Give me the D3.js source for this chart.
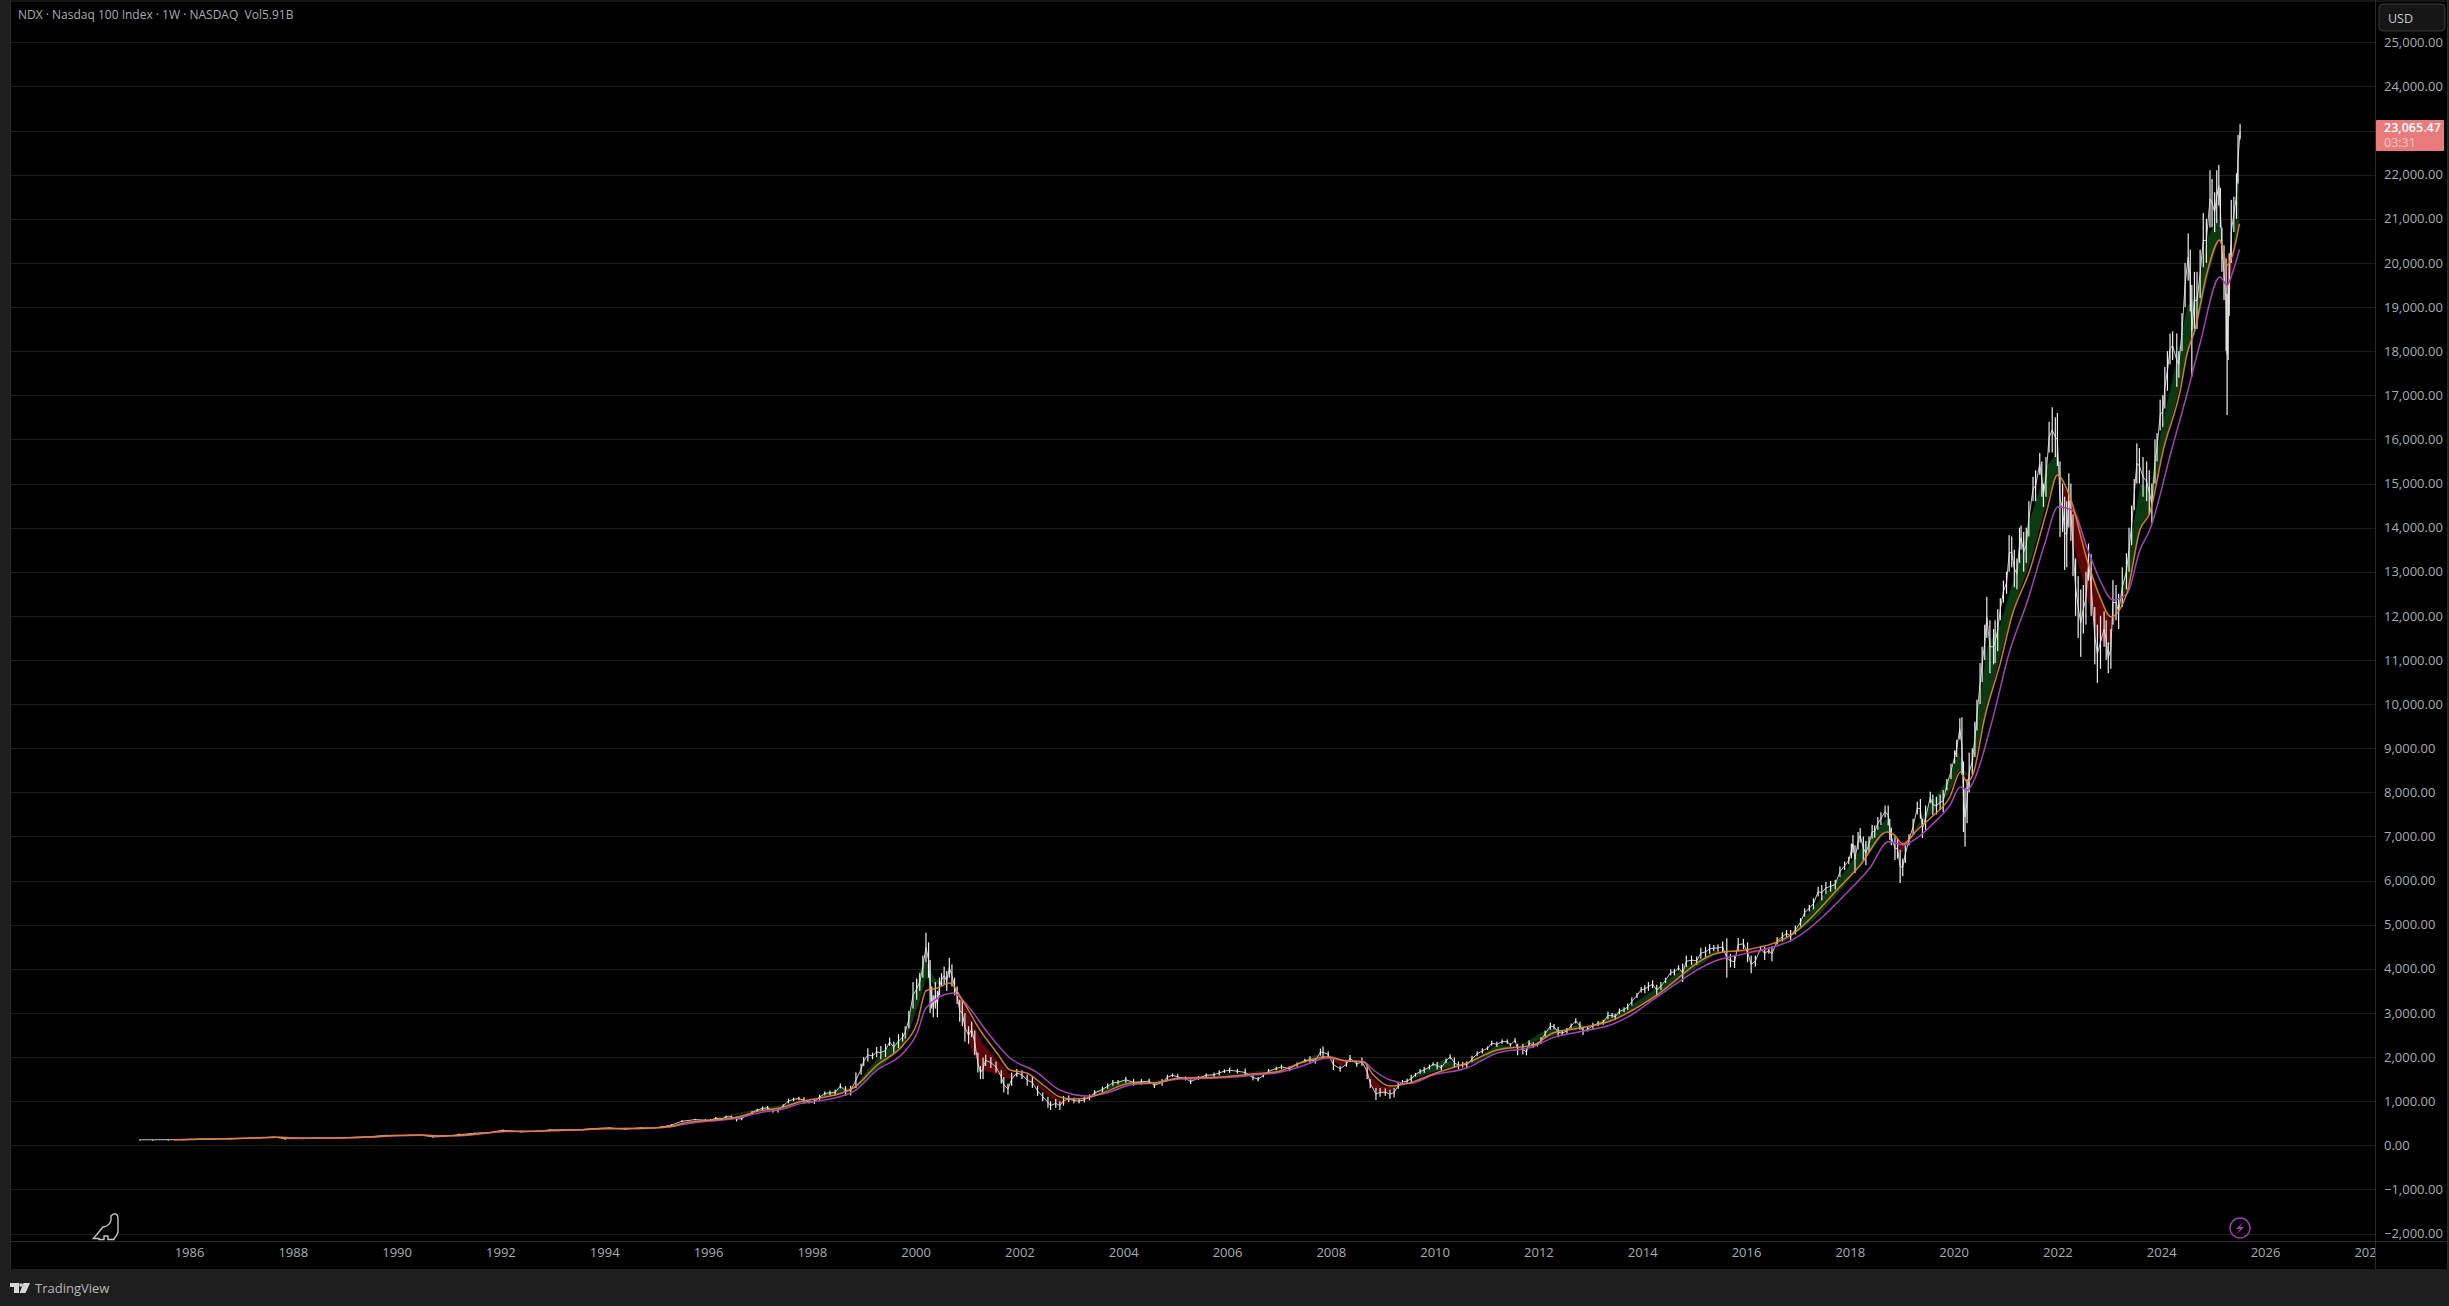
<!DOCTYPE html>
<html>
<head>
<meta charset="utf-8">
<title>NDX</title>
<script src="https://cdn.jsdelivr.net/npm/d3@7"></script>
<style>
    html, body { margin: 0; padding: 0; background: #1e1e1e; overflow: hidden; }
    svg { display: block; }
    text { font-family: "Open Sans", "Noto Sans", sans-serif; }
</style>
</head>
<body>
<script>
// weekly price range (year as decimal)
const barDates = [
    1985.05,1985.3,1985.6,1985.9,1986.2,1986.5,1986.8,1987.2,1987.5,1987.63,1987.85,1988.2,1988.5,1988.9,1989.2,1989.5,1989.8,
    1990.2,1990.45,1990.7,1990.9,1991.2,1991.5,1991.8,1992.05,1992.4,1992.7,1992.95,1993.2,1993.5,1993.8,1994.1,1994.4,1994.7,1994.95,1995.1,1995.3,1995.5,1995.75,1995.95,
    1996.05,1996.15,1996.25,1996.35,1996.45,1996.55,1996.65,1996.75,1996.85,1996.95,
    1997.05,1997.15,1997.25,1997.35,1997.45,1997.55,1997.65,1997.75,1997.85,1997.95,
    1998.05,1998.15,1998.25,1998.35,1998.45,1998.55,1998.65,1998.75,1998.85,1998.95,
    1999,1999.08,1999.17,1999.25,1999.33,1999.42,1999.5,1999.58,1999.67,1999.75,1999.8,1999.87,1999.95,
    2000.02,2000.08,2000.14,2000.2,2000.25,2000.28,2000.31,2000.34,2000.38,2000.42,2000.46,2000.5,2000.55,2000.6,2000.65,2000.7,2000.75,2000.8,2000.85,2000.9,2000.95,
    2001.02,2001.08,2001.14,2001.2,2001.25,2001.3,2001.35,2001.45,2001.55,2001.65,2001.7,2001.78,2001.85,2001.95,
    2002.05,2002.15,2002.25,2002.35,2002.45,2002.55,2002.6,2002.7,2002.78,2002.85,2002.95,
    2003.05,2003.15,2003.25,2003.35,2003.45,2003.6,2003.7,2003.8,2003.9,
    2004.05,2004.2,2004.35,2004.5,2004.6,2004.75,2004.85,2004.95,
    2005.05,2005.2,2005.3,2005.45,2005.6,2005.75,2005.85,2005.95,
    2006.05,2006.2,2006.35,2006.5,2006.6,2006.7,2006.8,2006.95,
    2007.05,2007.2,2007.35,2007.5,2007.6,2007.7,2007.8,2007.85,2007.95,
    2008.05,2008.18,2008.3,2008.37,2008.5,2008.6,2008.7,2008.76,2008.87,2008.95,
    2009.05,2009.14,2009.22,2009.3,2009.38,2009.47,2009.55,2009.63,2009.72,2009.8,2009.9,2009.97,
    2010.05,2010.13,2010.22,2010.3,2010.38,2010.46,2010.54,2010.62,2010.72,2010.82,2010.92,
    2011.02,2011.1,2011.2,2011.3,2011.4,2011.46,2011.55,2011.6,2011.7,2011.77,2011.82,2011.9,2011.98,
    2012.05,2012.13,2012.23,2012.3,2012.38,2012.46,2012.55,2012.63,2012.72,2012.8,2012.86,2012.95,
    2013.05,2013.15,2013.25,2013.34,2013.42,2013.48,2013.56,2013.65,2013.72,2013.8,2013.9,2013.98,
    2014.05,2014.12,2014.2,2014.28,2014.36,2014.45,2014.55,2014.62,2014.7,2014.78,2014.85,2014.95,
    2015.05,2015.13,2015.22,2015.3,2015.38,2015.46,2015.55,2015.63,2015.7,2015.78,2015.85,2015.95,
    2016.03,2016.1,2016.18,2016.28,2016.36,2016.44,2016.5,2016.6,2016.7,2016.78,2016.86,2016.95,
    2017.05,2017.13,2017.22,2017.3,2017.39,2017.46,2017.54,2017.63,2017.72,2017.81,2017.9,2017.98,
    2018.03,2018.06,2018.1,2018.16,2018.2,2018.26,2018.31,2018.37,2018.43,2018.48,2018.54,2018.6,2018.68,2018.74,2018.77,2018.8,2018.87,2018.92,2018.97,
    2019.02,2019.07,2019.14,2019.22,2019.3,2019.36,2019.4,2019.46,2019.55,2019.6,2019.67,2019.74,2019.8,2019.87,2019.95,
    2020.02,2020.06,2020.12,2020.16,2020.19,2020.22,2020.26,2020.3,2020.36,2020.41,2020.45,2020.51,2020.55,2020.6,2020.64,2020.7,2020.77,2020.8,2020.85,2020.9,2020.96,
    2021.02,2021.07,2021.12,2021.17,2021.22,2021.27,2021.3,2021.35,2021.4,2021.45,2021.53,2021.58,2021.66,2021.7,2021.73,2021.78,2021.84,2021.9,2021.96,
    2022,2022.05,2022.1,2022.14,2022.18,2022.22,2022.26,2022.3,2022.35,2022.4,2022.45,2022.5,2022.55,2022.6,2022.65,2022.72,2022.77,2022.83,2022.9,2022.94,2022.98,
    2023.03,2023.07,2023.13,2023.18,2023.25,2023.33,2023.38,2023.43,2023.48,2023.53,2023.58,2023.65,2023.72,2023.77,2023.82,2023.88,2023.92,2023.98,
    2024.03,2024.07,2024.12,2024.17,2024.22,2024.3,2024.34,2024.4,2024.46,2024.52,2024.56,2024.59,2024.64,2024.69,2024.75,2024.81,2024.87,2024.94,2024.98,
    2025.03,2025.07,2025.11,2025.14,2025.17,2025.21,2025.25,2025.27,2025.29,2025.31,2025.35,2025.4,2025.45,2025.48,2025.52
];
const barHigh = [
    126,128,130,135,150,155,150,175,185,195,175,160,175,172,190,205,235,
    235,245,205,210,265,285,300,355,320,330,360,365,360,395,405,375,410,400,430,480,570,600,590,
    590,640,620,670,670,650,640,710,780,830,
    880,890,820,850,930,1060,1080,1100,1090,1010,
    1040,1150,1220,1240,1260,1400,1340,1350,1650,1850,
    2000,2200,2100,2230,2250,2300,2440,2350,2520,2550,2700,3050,3700,
    3780,3900,4300,4816,4600,4200,3600,3400,3700,3500,3800,3900,4050,3950,4250,4100,3800,3600,3300,3300,3000,
    2700,2800,2600,2100,1800,1990,2050,2000,1900,1700,1550,1400,1650,1730,
    1700,1600,1550,1350,1200,1100,1000,1050,1000,1120,1130,
    1080,1050,1100,1150,1250,1330,1400,1480,1480,
    1550,1500,1500,1510,1420,1500,1600,1630,
    1620,1560,1500,1570,1630,1650,1700,1720,
    1760,1730,1740,1600,1550,1620,1730,1780,
    1830,1790,1880,1960,2020,1980,2190,2240,2130,
    1950,1800,1900,2047,1900,1990,1850,1500,1300,1300,
    1290,1260,1300,1430,1480,1510,1600,1640,1730,1780,1830,1880,
    1890,1820,1970,2060,1990,1900,1890,1900,2030,2130,2200,
    2240,2370,2350,2400,2400,2310,2430,2300,2300,2180,2380,2340,2320,
    2450,2600,2780,2750,2680,2600,2660,2760,2880,2800,2680,2680,
    2780,2820,2840,3030,3000,2980,3100,3130,3210,3350,3450,3590,
    3630,3700,3740,3640,3700,3800,3990,4000,4080,4120,4300,4300,
    4280,4480,4500,4560,4540,4550,4620,4690,4340,4300,4700,4680,
    4600,4300,4300,4520,4500,4480,4510,4720,4830,4880,4880,4980,
    5150,5370,5450,5600,5860,5900,5970,5990,6020,6320,6430,6540,
    6840,7030,6800,7100,7190,7000,6900,7000,7260,7250,7440,7550,7700,7700,7400,7200,7000,6950,6700,
    6500,6800,7050,7400,7790,7850,7400,7700,8015,7950,7900,7950,8050,8300,8650,
    8950,9190,9680,9700,8700,8100,8300,8900,9000,9600,10100,10930,11300,11800,12430,11900,11700,11900,12150,12400,12800,
    13000,13830,13800,13500,13300,14000,14050,13900,14000,14600,15150,15300,15690,15500,15000,15600,16400,16730,16500,
    16600,15500,15000,14700,14600,15230,15000,14300,13300,12900,12600,12700,13000,13640,13400,12200,11800,12000,12100,11900,11400,
    11700,12810,12700,12500,13100,13420,14000,14500,15100,15910,15800,15600,15500,15300,15000,16000,16140,16900,
    17000,17640,18000,18400,18450,18400,18000,18860,20000,20670,20300,19500,19800,19800,20300,21130,21000,22100,21900,
    21600,22100,22220,21700,20800,20400,20100,19300,19500,20220,21430,21500,22030,22900,23150
];
const barLow = [
    124,122,125,125,132,143,140,150,170,180,125,145,160,160,175,190,215,
    215,225,175,190,215,260,280,325,290,300,340,335,340,365,385,355,385,380,400,440,520,565,550,
    545,590,570,620,625,540,570,650,710,760,
    800,810,740,740,860,950,1000,1020,950,950,
    940,1030,1130,1140,1130,1290,1120,1130,1300,1600,
    1800,1900,1950,2000,1950,2000,2250,2100,2200,2350,2420,2650,3100,
    3300,3500,3800,4150,3800,3000,3100,2900,3100,2900,3400,3600,3650,3500,3800,3600,3400,3200,2800,2700,2350,
    2300,2450,2050,1650,1500,1500,1800,1750,1650,1400,1200,1150,1350,1550,
    1500,1350,1300,1120,1000,850,800,850,800,900,980,
    950,950,970,1020,1120,1200,1280,1350,1380,
    1420,1350,1380,1400,1300,1350,1480,1550,
    1480,1470,1390,1480,1540,1550,1580,1640,
    1640,1630,1560,1470,1450,1540,1620,1700,
    1730,1680,1780,1880,1850,1850,2030,1980,1990,
    1707,1668,1780,1900,1782,1800,1500,1299,1027,1100,
    1120,1050,1090,1280,1380,1400,1420,1560,1620,1640,1720,1800,
    1720,1700,1860,1950,1760,1720,1760,1752,1880,2020,2080,
    2160,2260,2230,2300,2300,2240,2330,2040,2060,2040,2250,2210,2240,
    2300,2460,2620,2630,2450,2480,2530,2650,2760,2620,2500,2580,
    2640,2700,2730,2860,2890,2840,2970,3020,3070,3170,3340,3460,
    3450,3500,3560,3400,3520,3680,3850,3850,3960,3700,4040,4090,
    4090,4230,4270,4340,4400,4390,4380,3800,4030,4020,4400,4450,
    4150,3900,4050,4400,4200,4340,4170,4550,4620,4720,4620,4780,
    4960,5180,5300,5350,5640,5550,5700,5750,5800,6080,6240,6370,
    6500,6630,6170,6700,6860,6470,6350,6650,6950,6970,7150,7260,7430,7250,6920,6800,6466,6500,5945,
    6100,6400,6800,7050,7500,7400,6965,7150,7750,7486,7500,7600,7550,8050,8300,
    8650,8800,9200,8400,7100,6770,7300,8000,8400,8800,9400,10000,10500,11000,11500,10700,10900,10930,11200,11900,12300,
    12500,13000,13100,12650,12600,13200,13500,13000,13200,13800,14600,14600,15200,14700,14470,14700,15700,15700,15600,
    15400,13790,13900,13040,13100,14000,13700,12900,12000,11500,11070,11600,11800,12800,12000,10900,10480,10800,11300,11000,10700,
    10800,11800,11900,11700,12200,12600,13000,13600,14400,15000,15000,14700,14600,14300,14100,15000,15500,16200,
    16280,16700,17100,17700,17800,17190,17400,18000,19000,19600,18900,17420,18500,18500,19200,19900,20000,20800,20810,
    20700,20900,21300,20800,19800,19160,18000,16550,17800,18800,20000,20700,21000,21800,22800
];

// orange moving average
const orangeDates = [1985.7,1986.5,1987.3,1987.7,1988,1988.5,1989,1989.5,1990,1990.5,1990.8,1991.2,1991.6,1992.1,1992.6,1993,1993.5,1994,1994.5,1995,1995.3,1995.6,1996,1996.5,1997,1997.4,1997.8,1998.16,1998.8,1999.26,1999.76,2000.03,2000.2,2000.4,2000.66,2000.9,2001.24,2001.57,2001.82,2002.14,2002.46,2002.78,2003.03,2003.3,2003.6,2004.19,2004.57,2005.09,2005.87,2006.5,2007,2007.41,2007.95,2008.31,2008.62,2008.82,2009.14,2009.52,2009.97,2010.62,2011.2,2011.9,2012.28,2012.8,2013.44,2013.82,2014.2,2015.46,2016,2016.9,2017.81,2018.2,2018.72,2018.85,2019.03,2019.3,2019.6,2019.93,2020.13,2020.26,2020.38,2020.6,2020.9,2021.12,2021.47,2021.8,2022,2022.24,2022.57,2022.82,2023.03,2023.34,2023.59,2023.78,2024.04,2024.37,2024.5,2024.65,2024.88,2025.13,2025.27,2025.36,2025.51];
const orangeValues = [127,142,168,185,165,163,170,190,222,232,210,220,265,320,320,335,350,380,380,400,430,520,565,625,780,850,1000,1072,1299,1820,2273,2772,3504,3560,3680,3293,2613,2092,1707,1638,1367,1095,1049,1072,1185,1412,1412,1525,1548,1620,1680,1865,2009,1910,1895,1593,1344,1412,1616,1865,2160,2273,2545,2660,2840,3066,3340,4360,4430,4790,5860,6350,7100,7040,6830,7150,7465,7900,8460,8240,8430,9700,10930,11980,13040,14400,15190,14700,13270,12430,11980,12520,13950,14330,15760,17120,17950,18480,19760,20520,19950,20130,20890];

// purple moving average
const purpleDates = [1985.7,1986.5,1987.3,1987.7,1988,1988.5,1989,1989.5,1990,1990.5,1990.8,1991.2,1991.6,1992.1,1992.6,1993,1993.5,1994,1994.5,1995,1995.3,1995.6,1996,1996.5,1997,1997.4,1997.8,1998.16,1998.8,1999.26,1999.76,2000.03,2000.2,2000.72,2000.99,2001.38,2001.82,2002.33,2002.78,2003.3,2003.6,2004.19,2004.57,2005.09,2005.87,2006.5,2007,2007.41,2007.95,2008.31,2008.62,2008.82,2009.14,2009.52,2009.97,2010.62,2011.2,2011.9,2012.28,2012.8,2013.44,2013.82,2014.2,2015.46,2016,2016.9,2018,2018.39,2018.74,2019.03,2019.3,2019.6,2019.93,2020.13,2020.26,2020.38,2020.76,2021.07,2021.43,2021.76,2022.01,2022.28,2022.6,2022.82,2023.07,2023.34,2023.59,2023.78,2024.2,2024.5,2024.75,2025.13,2025.27,2025.38,2025.51];
const purpleValues = [127,141,165,180,168,162,168,186,218,230,215,215,255,310,318,330,345,375,378,395,420,490,545,600,740,810,950,1010,1215,1707,2092,2545,3112,3450,3180,2568,1979,1661,1253,1117,1160,1380,1405,1500,1530,1590,1650,1782,1978,1910,1900,1707,1480,1400,1590,1752,2090,2235,2440,2575,2750,2976,3290,4200,4350,4660,5790,6290,6880,6810,6970,7285,7710,8120,8050,8240,9700,11160,12360,13650,14470,14400,13450,12810,12360,12500,13490,13950,15760,17040,18180,19680,19500,19800,20310];

// shaded band between two unseen averages, green when fast is above slow, red below
const bandDates = [1995.3,1996,1997,1998,1998.6,1998.8,1999,1999.4,1999.8,2000.08,2000.2,2000.35,2000.55,2000.7,2000.9,2001.1,2001.3,2001.6,2001.8,2002,2002.3,2002.6,2002.8,2003,2003.2,2003.5,2004,2004.4,2005,2006.3,2007.2,2007.7,2008,2008.2,2008.4,2008.6,2008.8,2009,2009.2,2009.35,2009.7,2010.2,2010.5,2010.9,2011.2,2011.6,2012.2,2012.5,2012.8,2012.95,2013.3,2013.8,2014.2,2014.8,2015.4,2015.7,2016.1,2016.5,2016.9,2017.4,2017.9,2018.2,2018.7,2018.85,2019,2019.2,2019.5,2019.9,2020.1,2020.2,2020.3,2020.45,2020.65,2020.9,2021.2,2021.5,2021.8,2022,2022.1,2022.2,2022.4,2022.6,2022.8,2023,2023.08,2023.2,2023.4,2023.6,2023.8,2024,2024.3,2024.5,2024.7,2024.9,2025.1,2025.2,2025.3,2025.38,2025.5];
const bandFast = [430,590,830,1030,1320,1270,1600,2150,2450,3970,4200,3800,3650,3700,2900,2100,1700,1600,1500,1600,1400,1080,920,1000,1040,1250,1480,1440,1520,1640,1760,2050,1950,1800,1950,1880,1300,1150,1260,1390,1680,1950,1800,2030,2280,2230,2650,2620,2760,2650,2900,3180,3500,4020,4400,4400,4350,4400,4830,5550,6200,6700,7400,7000,6600,7050,7650,8300,8900,8500,8400,9700,11300,11800,13000,14300,15400,15700,14900,14200,13200,12300,11500,11300,11800,12300,13600,15000,14900,16200,17800,19000,19300,20600,21000,20200,18900,20000,22400];
const bandSlow = [430,575,790,990,1230,1270,1410,1850,2330,3290,3800,3650,3650,3700,3250,2772,2300,1900,1620,1620,1450,1180,1020,1010,1040,1170,1370,1420,1510,1630,1735,1960,1990,1930,1930,1880,1520,1330,1320,1390,1560,1750,1800,1900,2120,2230,2450,2560,2640,2650,2780,3060,3300,3820,4320,4400,4420,4420,4750,5200,5880,6350,7120,7000,6840,7050,7430,7950,8500,8400,8400,8950,9900,11100,12300,13300,14600,15200,14950,14800,14300,13300,12500,11900,11950,12200,12800,14000,14400,15600,16900,17900,18600,19700,20500,20300,19900,20100,20800];

// axes
const priceTicks = d3.range(-2000, 26000, 1000);
const yearTicks = d3.range(1986, 2030, 2);
const lastPrice = "23,065.47";
const countdown = "03:31";

const svg = d3.select("body").append("svg")
    .attr("width", 2449)
    .attr("height", 1306);

const x = d3.scaleLinear().domain([1986, 2026]).range([189, 2265]);
const y = d3.scaleLinear().domain([0, 25000]).range([1145.3, 42.3]);

// panels
svg.append("rect").attr("x", 10).attr("y", 0).attr("width", 2438).attr("height", 1269).attr("fill", "#000");
svg.append("defs").append("clipPath").attr("id", "timeclip")
    .append("rect").attr("x", 10).attr("y", 1242).attr("width", 2365).attr("height", 27);

// grid
svg.append("g").selectAll("line")
    .data(priceTicks)
    .enter()
    .append("line")
        .attr("x1", 10)
        .attr("x2", 2375)
        .attr("y1", d => Math.round(y(d)) + 0.5)
        .attr("y2", d => Math.round(y(d)) + 0.5)
        .attr("stroke", "#1c1c1c");

// frame lines
const frame = [[10, 1, 2448, 1], [10, 1241.5, 2448, 1241.5], [2375.5, 0, 2375.5, 1269], [2447.5, 0, 2447.5, 1269], [10.5, 0, 10.5, 1269]];
svg.append("g").selectAll("line")
    .data(frame)
    .enter()
    .append("line")
        .attr("x1", d => d[0]).attr("y1", d => d[1])
        .attr("x2", d => d[2]).attr("y2", d => d[3])
        .attr("stroke", "#2b2b2b");

// shaded bands
const bands = bandDates.map((d, i) => ({ date: d, fast: bandFast[i], slow: bandSlow[i] }));
svg.append("path")
    .attr("d", d3.area().x(d => x(d.date)).y0(d => y(d.slow)).y1(d => y(Math.max(d.fast, d.slow)))(bands))
    .attr("fill", "#0b3a12");
svg.append("path")
    .attr("d", d3.area().x(d => x(d.date)).y0(d => y(d.slow)).y1(d => y(Math.min(d.fast, d.slow)))(bands))
    .attr("fill", "#5e0709");

// price bars, with a thin line running through them
const bars = barDates.map((d, i) => ({ date: d, high: barHigh[i], low: barLow[i] }));
svg.append("path")
    .attr("d", d3.line().x(d => x(d.date)).y(d => y((d.high + d.low) / 2))(bars))
    .attr("fill", "none")
    .attr("stroke", "#c4c6cb")
    .attr("stroke-width", 1);
svg.append("g").selectAll("rect")
    .data(bars)
    .enter()
    .append("rect")
        .attr("x", d => x(d.date) - 0.6)
        .attr("width", 1.2)
        .attr("y", d => y(d.high))
        .attr("height", d => Math.max(1, y(d.low) - y(d.high)))
        .attr("fill", "#eceded");

// moving averages
const lineGenerator = d3.line().curve(d3.curveMonotoneX);
svg.append("path")
    .attr("d", lineGenerator(purpleDates.map((d, i) => [x(d), y(purpleValues[i])])))
    .attr("fill", "none")
    .attr("stroke", "#a343b5")
    .attr("stroke-width", 1.5);
svg.append("path")
    .attr("d", lineGenerator(orangeDates.map((d, i) => [x(d), y(orangeValues[i])])))
    .attr("fill", "none")
    .attr("stroke", "#e8862e")
    .attr("stroke-opacity", 0.9)
    .attr("stroke-width", 1.5);

// price axis, the 23,000 label sits under the price tag
const yAxis = svg.append("g")
    .attr("transform", "translate(2375,0)")
    .call(d3.axisRight(y).tickValues(priceTicks.filter(d => d !== 23000)).tickSize(0).tickPadding(9)
        .tickFormat(d => (d < 0 ? "\u2212" : "") + d3.format(",.2f")(Math.abs(d))));
yAxis.select(".domain").remove();
yAxis.selectAll("text").attr("fill", "#a9acb3").style("font-size", "13px");

// time axis
const xAxis = svg.append("g")
    .attr("clip-path", "url(#timeclip)")
    .append("g")
    .attr("transform", "translate(0,1241)")
    .call(d3.axisBottom(x).tickValues(yearTicks).tickSize(0).tickPadding(7).tickFormat(d3.format("d")));
xAxis.select(".domain").remove();
xAxis.selectAll("text").attr("fill", "#a9acb3").style("font-size", "13px");

// title
svg.append("text")
    .attr("x", 18).attr("y", 19)
    .attr("fill", "#a9acb3")
    .style("font-size", "12px")
    .style("white-space", "pre")
    .text("NDX \u00b7 Nasdaq 100 Index \u00b7 1W \u00b7 NASDAQ  Vol5.91B");

// last price tag
svg.append("rect").attr("x", 2376).attr("y", 120).attr("width", 68).attr("height", 31).attr("rx", 1).attr("fill", "#e97a7c");
svg.append("text").attr("x", 2384).attr("y", 132).attr("fill", "#fff").style("font-size", "12.5px").style("font-weight", 600).text(lastPrice);
svg.append("text").attr("x", 2384).attr("y", 147).attr("fill", "#f8c9ca").style("font-size", "12.5px").text(countdown);

// currency button
svg.append("rect").attr("x", 2379).attr("y", 4).attr("width", 66).attr("height", 27).attr("rx", 4).attr("fill", "#161616").attr("stroke", "#3a3a3a");
svg.append("text").attr("x", 2388).attr("y", 23).attr("fill", "#c9cbd0").style("font-size", "12.5px").text("USD");

// dinosaur mark
svg.append("path")
    .attr("d", "M93.5 1238.5 L103 1227 Q110 1226 111 1220 L111 1216 Q113 1213.5 116 1214 Q118 1215 118 1218 L118 1232 Q117 1236 114 1238.5 L114 1239.5 L108 1239.5 L108 1236 L104 1236 L104 1239.5 L99 1239.5 L99 1238.5 Z")
    .attr("fill", "#000")
    .attr("stroke", "#c4c4c4")
    .attr("stroke-width", 1.4);

// lightning mark
svg.append("circle").attr("cx", 2240).attr("cy", 1228).attr("r", 10).attr("fill", "#000").attr("stroke", "#9a3fa8").attr("stroke-width", 1.5);
svg.append("path").attr("d", "M2243 1222 L2236 1229 L2240 1229 L2237 1234 L2244 1227 L2240 1227 Z").attr("fill", "#9a3fa8");

// footer logo
svg.append("path").attr("d", "M10 1283 H19 V1293 H14 V1287 H10 Z M23.5 1283 H30 L25.5 1293 H19.5 Z").attr("fill", "#d6d6d6");
svg.append("circle").attr("cx", 21).attr("cy", 1285).attr("r", 1.8).attr("fill", "#d6d6d6");
svg.append("text").attr("x", 35).attr("y", 1293).attr("fill", "#b8b8b8").style("font-size", "13px").text("TradingView");
</script>
</body>
</html>
